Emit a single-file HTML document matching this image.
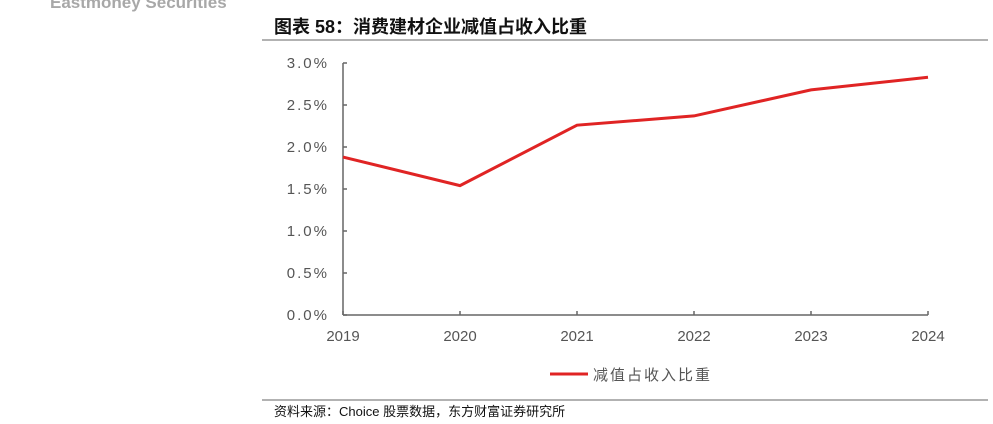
<!DOCTYPE html>
<html><head><meta charset="utf-8"><style>
body{margin:0;width:993px;height:424px;background:#fff;overflow:hidden;font-family:"Liberation Sans","Noto Sans CJK SC",sans-serif;}
svg{position:absolute;left:0;top:0}
</style></head><body>
<svg width="993" height="424">
<text x="50" y="8" font-size="17" font-weight="bold" fill="#a8a8a8">Eastmoney Securities</text>
<text x="274" y="33" font-size="18" font-weight="bold" fill="#111">图表 58：消费建材企业减值占收入比重</text>
<line x1="262" y1="40" x2="988" y2="40" stroke="#999" stroke-width="1.5"/>
<line x1="262" y1="400" x2="988" y2="400" stroke="#999" stroke-width="1.5"/>
<text x="274" y="416" font-size="13" fill="#111">资料来源：Choice 股票数据，东方财富证券研究所</text>
<g id="axes"></g>
<g id="series"></g>
<line x1="550" y1="374" x2="588" y2="374" stroke="#e02424" stroke-width="3"/>
<text x="593" y="380" font-size="15" fill="#555" letter-spacing="2">减值占收入比重</text>
</svg>
<script>
const categories=["2019","2020","2021","2022","2023","2024"];
const values=[1.88,1.54,2.26,2.37,2.68,2.83];
const yTicks=[0,0.5,1.0,1.5,2.0,2.5,3.0];
const x0=343,x1=928,yb=315,yt=63;
const xs=i=>x0+i*(x1-x0)/(categories.length-1);
const ys=v=>yb-(v/3)*(yb-yt);
const ns="http://www.w3.org/2000/svg";
const ax=document.getElementById('axes'),se=document.getElementById('series');
function mk(t,a,p){const e=document.createElementNS(ns,t);for(const k in a)e.setAttribute(k,a[k]);p.appendChild(e);return e;}
let l=mk('line',{x1:x0,y1:yt,x2:x0,y2:yb,stroke:'#666','stroke-width':1.5},ax);


l=mk('line',{x1:x0,y1:yb,x2:x1,y2:yb,stroke:'#666','stroke-width':1.5},ax);


yTicks.forEach(v=>{const y=ys(v);
 const t=mk('line',{x1:x0,y1:y,x2:x0+4,y2:y,stroke:'#666','stroke-width':1.5},ax);
 
 
 const tx=mk('text',{x:329,y:y+5,'text-anchor':'end','font-size':15,fill:'#555','letter-spacing':'2'},ax);
 tx.textContent=v.toFixed(1)+'%';
 
 });
categories.forEach((c,i)=>{const x=xs(i);
 const t=mk('line',{x1:x,y1:yb,x2:x,y2:yb-4,stroke:'#666','stroke-width':1.5},ax);
 
 
 const tx=mk('text',{x:x,y:yb+26,'text-anchor':'middle','font-size':15,fill:'#555'},ax);
 tx.textContent=c;
 
 });
const p=mk('polyline',{points:values.map((v,i)=>xs(i)+','+ys(v)).join(' '),fill:'none',stroke:'#e02424','stroke-width':3},se);


</script>
</body></html>
